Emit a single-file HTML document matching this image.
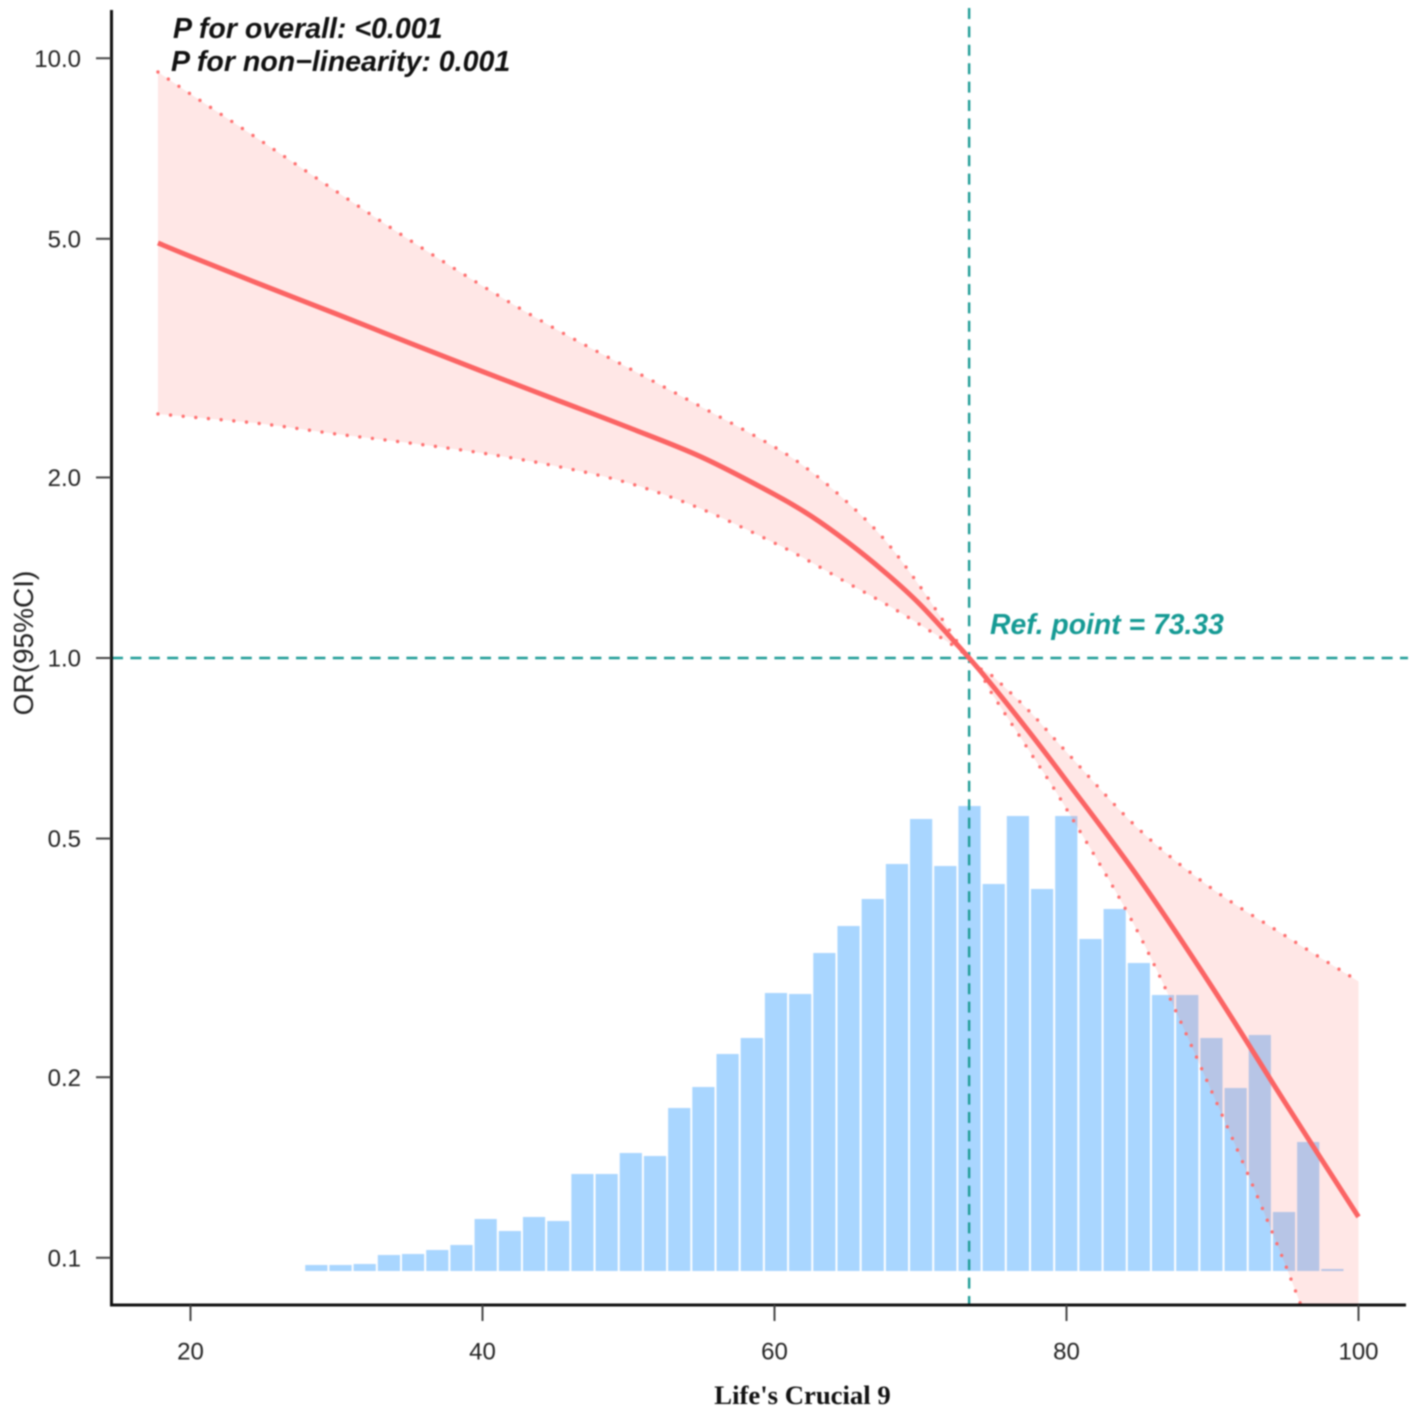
<!DOCTYPE html>
<html lang="en">
<head>
<meta charset="utf-8">
<title>Life's Crucial 9 restricted cubic spline</title>
<style>
html,body{margin:0;padding:0;background:#fff;width:1417px;height:1417px;overflow:hidden}
svg{display:block;filter:blur(0.7px)}
text{font-family:"Liberation Sans",sans-serif}
</style>
</head>
<body>
<svg id="chart" xmlns="http://www.w3.org/2000/svg" width="1417" height="1417" viewBox="0 0 1417 1417">
<rect x="0" y="0" width="1417" height="1417" fill="#ffffff"/>
<defs><clipPath id="plot-clip"><rect x="112" y="0" width="1296" height="1305"/></clipPath></defs>
<g id="bars"></g>
<g id="band" clip-path="url(#plot-clip)"></g>
<g id="refs"></g>
<g id="curve" clip-path="url(#plot-clip)"></g>
<g id="axes"></g>
<text transform="translate(33,643) rotate(-90)" text-anchor="middle" font-size="28" fill="#222">OR(95%CI)</text>
<text x="802.5" y="1404" text-anchor="middle" font-size="26.7" font-weight="bold" fill="#111" style="font-family:'Liberation Serif',serif">Life's Crucial 9</text>
<text x="173" y="38" font-size="28.55" font-weight="bold" font-style="italic" fill="#111">P for overall: &lt;0.001</text>
<text x="171" y="71" font-size="28.55" font-weight="bold" font-style="italic" fill="#111">P for non&#8722;linearity: 0.001</text>
<text x="990" y="634" font-size="28.35" font-weight="bold" font-style="italic" fill="#159a94">Ref. point = 73.33</text>
</svg>
<script>
const xTicks = [20, 40, 60, 80, 100];
const xTickLabels = ["20", "40", "60", "80", "100"];
const yTicks = [10, 5, 2, 1, 0.5, 0.2, 0.1];
const yTickLabels = ["10.0", "5.0", "2.0", "1.0", "0.5", "0.2", "0.1"];
const refX = 73.33;
const refOR = 1;
const curveX = [17.77, 20, 25, 30, 35, 40, 45, 50, 55, 60, 62.5, 65, 67.5, 70, 73.33, 75, 77.5, 80, 85, 90, 95, 100];
const curveOR = [4.92, 4.673, 4.179, 3.746, 3.352, 3.004, 2.698, 2.423, 2.163, 1.874, 1.725, 1.561, 1.394, 1.226, 1, 0.8947, 0.75, 0.624, 0.428, 0.282, 0.181, 0.117];
const upperOR = [9.486, 8.716, 7.236, 5.995, 4.977, 4.172, 3.537, 3.044, 2.621, 2.248, 2.046, 1.817, 1.579, 1.313, 1, 0.9296, 0.813, 0.697, 0.517, 0.412, 0.344, 0.289];
const lowerOR = [2.552, 2.523, 2.456, 2.363, 2.283, 2.196, 2.09, 1.958, 1.772, 1.555, 1.445, 1.334, 1.235, 1.135, 1, 0.864, 0.697, 0.56, 0.345, 0.188, 0.0972, 0.0456];
const histCounts = [6, 6, 7, 16, 17, 21, 26, 52, 40, 54, 50, 97, 97, 118, 115, 163, 184, 217, 233, 278, 277, 318, 345, 372, 407, 452, 405, 465, 387, 455, 382, 455, 332, 362, 308, 276, 276, 233, 183, 236, 59, 129, 2];
const histStart = 27.79;
const histBinWidth = 1.657;

const xScale = v => 190.5 + (v - 20) * 14.6;
const yScale = v => 658 - Math.log10(v) * 599.75;
const histBase = 1271;
const histScale = c => histBase - c;

const NS = "http://www.w3.org/2000/svg";
function mk(tag, attrs, parent) {
  const el = document.createElementNS(NS, tag);
  for (const k in attrs) el.setAttribute(k, attrs[k]);
  parent.appendChild(el);
  return el;
}
function smoothPath(pts) {
  let d = "M" + pts[0][0].toFixed(2) + "," + pts[0][1].toFixed(2);
  for (let i = 0; i < pts.length - 1; i++) {
    const p0 = pts[Math.max(i - 1, 0)], p1 = pts[i], p2 = pts[i + 1], p3 = pts[Math.min(i + 2, pts.length - 1)];
    const c1x = p1[0] + (p2[0] - p0[0]) / 6, c1y = p1[1] + (p2[1] - p0[1]) / 6;
    const c2x = p2[0] - (p3[0] - p1[0]) / 6, c2y = p2[1] - (p3[1] - p1[1]) / 6;
    d += "C" + c1x.toFixed(2) + "," + c1y.toFixed(2) + " " + c2x.toFixed(2) + "," + c2y.toFixed(2) + " " + p2[0].toFixed(2) + "," + p2[1].toFixed(2);
  }
  return d;
}
const pointsFor = series => curveX.map((x, i) => [xScale(x), yScale(series[i])]);

const barsG = document.getElementById("bars");
histCounts.forEach((c, i) => {
  const x0 = xScale(histStart + i * histBinWidth);
  const x1 = xScale(histStart + (i + 1) * histBinWidth);
  const bar = mk("rect", {x: (x0 + 1).toFixed(2), y: histScale(c), width: (x1 - x0 - 2).toFixed(2), height: histBase - histScale(c), fill: "#a9d6ff"}, barsG);
  
  
});

const upPts = pointsFor(upperOR);
const loPts = pointsFor(lowerOR);
const midPts = pointsFor(curveOR);
const bandG = document.getElementById("band");
const upD = smoothPath(upPts);
const loRev = smoothPath(loPts.slice().reverse());
const bandPath = mk("path", {d: upD + "L" + loRev.slice(1) + "Z", fill: "#ff6f6a", "fill-opacity": "0.17", stroke: "none"}, bandG);



const refsG = document.getElementById("refs");
const hRef = mk("line", {x1: 112, x2: 1408, y1: yScale(refOR), y2: yScale(refOR), stroke: "#1f9c96", "stroke-width": 2.4, "stroke-dasharray": "11 7.4"}, refsG);


const vRef = mk("line", {x1: xScale(refX), x2: xScale(refX), y1: 8, y2: 1305, stroke: "#1f9c96", "stroke-width": 2.4, "stroke-dasharray": "11 7.4"}, refsG);



const curveG = document.getElementById("curve");
const upLine = mk("path", {d: upD, fill: "none", stroke: "#ff7070", "stroke-width": 3.4, "stroke-linecap": "round", "stroke-dasharray": "0 12.7"}, curveG);


const loLine = mk("path", {d: smoothPath(loPts), fill: "none", stroke: "#ff7070", "stroke-width": 3.4, "stroke-linecap": "round", "stroke-dasharray": "0 12.7"}, curveG);


const midLine = mk("path", {d: smoothPath(midPts), fill: "none", stroke: "#fb6464", "stroke-width": 5, "stroke-linecap": "butt"}, curveG);



const axesG = document.getElementById("axes");
const yAxis = mk("line", {x1: 111.5, x2: 111.5, y1: 10, y2: 1306.5, stroke: "#111", "stroke-width": 3}, axesG);


const xAxis = mk("line", {x1: 110, x2: 1406, y1: 1305, y2: 1305, stroke: "#111", "stroke-width": 3}, axesG);



yTicks.forEach((t, i) => {
  const tick = mk("line", {x1: 96, x2: 111, y1: yScale(t), y2: yScale(t), stroke: "#444", "stroke-width": 2}, axesG);
  
  
  const label = mk("text", {x: 81, y: yScale(t) + 8.6, "text-anchor": "end", "font-size": 24, fill: "#222"}, axesG);
  label.textContent = yTickLabels[i];
  
  
});
xTicks.forEach((t, i) => {
  const tick = mk("line", {x1: xScale(t), x2: xScale(t), y1: 1305, y2: 1321, stroke: "#444", "stroke-width": 2}, axesG);
  
  
  const label = mk("text", {x: xScale(t), y: 1359.5, "text-anchor": "middle", "font-size": 24, fill: "#222"}, axesG);
  label.textContent = xTickLabels[i];
  
  
});
</script>
</body>
</html>
